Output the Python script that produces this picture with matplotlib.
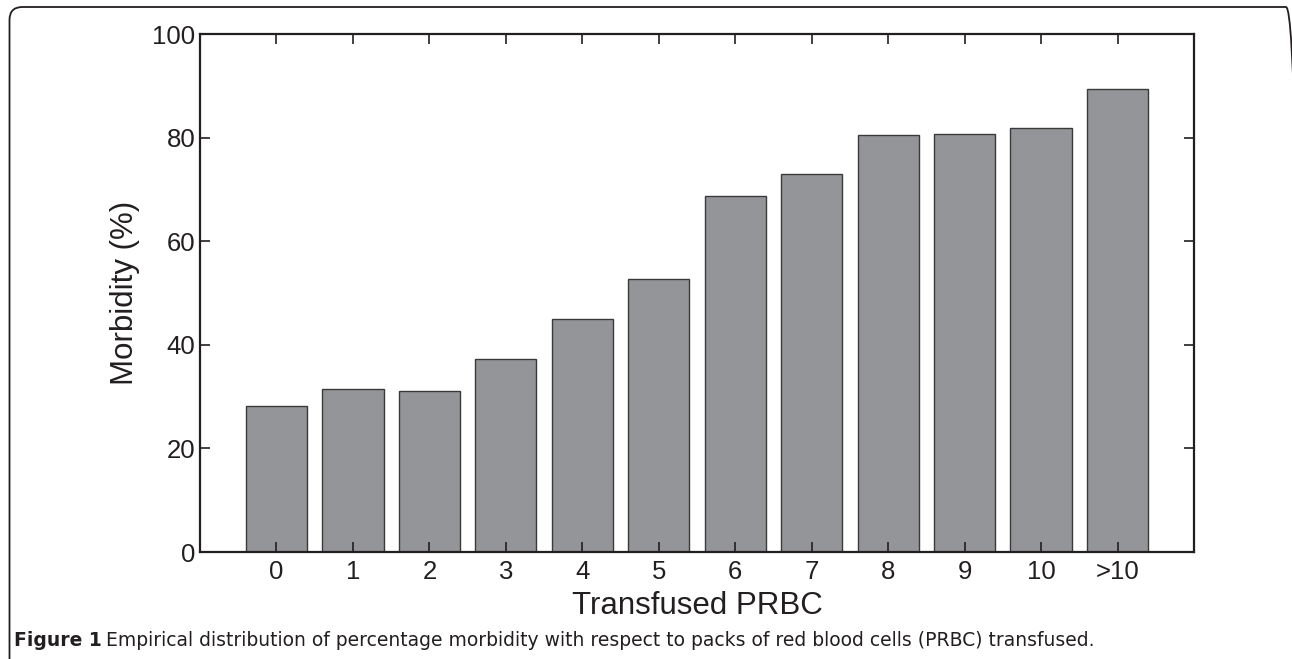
import matplotlib
matplotlib.use('Agg')
import matplotlib.pyplot as plt
from matplotlib.patches import FancyBboxPatch

# data
categories = ['0', '1', '2', '3', '4', '5', '6', '7', '8', '9', '10', '>10']
morbidity = [28.2, 31.5, 31.0, 37.3, 45.0, 52.7, 68.7, 73.0, 80.5, 80.6, 81.9, 89.4]
yticks = [0, 20, 40, 60, 80, 100]

W, H, dpi = 1292, 659, 100
fig = plt.figure(figsize=(W / dpi, H / dpi), dpi=dpi)

# rounded frame around the figure (cut off at right and bottom), in inches
left_in, top_in, right_in = 9.5 / dpi, (H - 7) / dpi, 1299 / dpi
frame = FancyBboxPatch((left_in, -0.3), right_in - left_in, top_in + 0.3,
                       boxstyle='round,pad=0,rounding_size=0.13',
                       transform=fig.dpi_scale_trans, fill=False,
                       edgecolor='#231f20', linewidth=1.3)
fig.patches.append(frame)

ax = fig.add_axes([200 / W, (H - 552) / H, (1194 - 200) / W, (552 - 34) / H])
x = list(range(len(categories)))
ax.bar(x, morbidity, width=0.8, color='#939598', edgecolor='#3a3a3a', linewidth=1.0)

ax.set_xlim(-1, 12)
ax.set_ylim(0, 100)
ax.set_xticks(x)
ax.set_xticklabels(categories)
ax.set_yticks(yticks)

for lab in ax.get_xticklabels() + ax.get_yticklabels():
    lab.set_fontfamily('Liberation Sans')
    lab.set_fontsize(18.5)
    lab.set_color('#231f20')

ax.tick_params(direction='in', length=7, width=1.2, top=True, right=True,
               color='#231f20')
ax.tick_params(axis='x', pad=6)
ax.tick_params(axis='y', pad=3.5)
for s in ax.spines.values():
    s.set_linewidth(1.6)
    s.set_color('#231f20')

ax.set_xlabel('Transfused PRBC', fontfamily='Liberation Sans', fontsize=22.5,
              color='#231f20', labelpad=5)
ax.set_ylabel('Morbidity (%)', fontfamily='Liberation Sans', fontsize=22.5,
              color='#231f20', labelpad=9)

# caption: bold label + regular text, sized to span the reference width
cap_y = 1 - 640 / H
cap_font = 'DejaVu Sans'
cap_size = 12
cap_head = 'Figure 1'
cap_body = ('Empirical distribution of percentage morbidity with respect to packs '
            'of red blood cells (PRBC) transfused.')
target_w = 1092 - 14

def place_caption(size):
    a = fig.text(14 / W, cap_y, cap_head, fontfamily=cap_font, fontweight='bold',
                 fontsize=size, color='#231f20', va='center')
    fig.canvas.draw()
    bb = a.get_window_extent()
    b = fig.text((bb.x1 + 0.35 * size) / W, cap_y, cap_body, fontfamily=cap_font,
                 fontsize=size, color='#231f20', va='center')
    fig.canvas.draw()
    return a, b

a, b = place_caption(cap_size)
w = b.get_window_extent().x1 - 14
a.remove()
b.remove()
place_caption(cap_size * target_w / w)

fig.savefig('out.png', dpi=dpi)
